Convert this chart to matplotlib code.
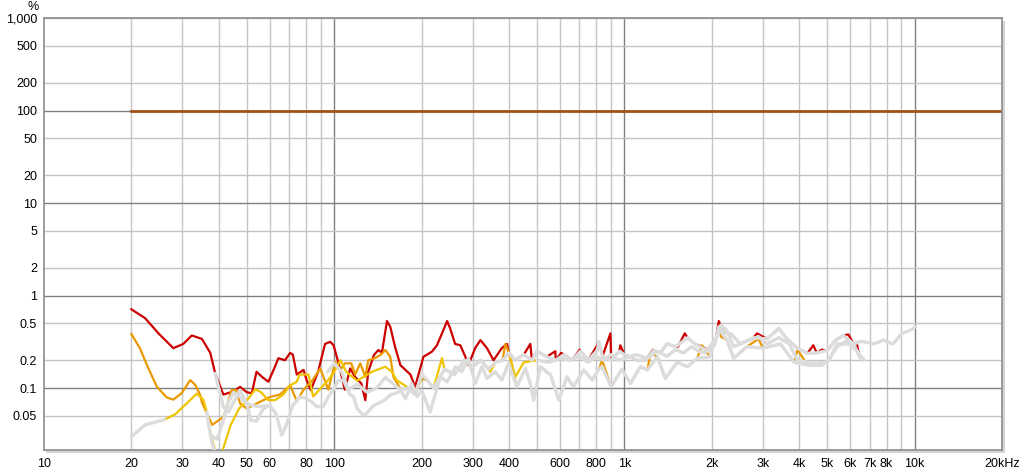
import matplotlib

matplotlib.use("Agg")
import matplotlib.pyplot as plt
from matplotlib.patches import Rectangle
from matplotlib.ticker import FixedLocator, NullLocator

# reference level (fundamental)
fund_f = [20, 20000]
fund_v = [100, 100]

# THD (red)
thd_f = [20, 22.3, 24.8, 27.9, 30.2, 32.3, 35.0, 37.4, 38.9, 41.5, 44, 45.6, 47.4, 50, 52,
         54, 56.4, 59.3, 62.5, 64.2, 67.7, 70.5, 72, 74.3, 78.4, 80.3, 83, 88, 93, 96.9,
         99.5, 103.5, 108.8, 113.5, 118, 124, 128, 131, 137, 142, 146, 152, 156, 162, 169,
         176, 183, 190, 203, 217, 226, 245, 251, 261, 272, 283, 290, 306, 319, 336, 354,
         378, 394, 400, 420, 450, 474, 480, 500, 540, 578, 580, 605, 620, 660, 702, 706,
         750, 806, 817, 840, 895, 900, 960, 968, 1000, 1049, 1100, 1181, 1256, 1262, 1330,
         1400, 1413, 1500, 1530, 1614, 1650, 1750, 1850, 1970, 2050, 2115, 2200, 2321,
         2512, 2780, 2865, 3100, 3404, 3630, 3945, 4270, 4475, 4600, 4780, 5000, 5340,
         5690, 5910, 6160, 6310, 6400]
thd_v = [0.71, 0.57, 0.39, 0.27, 0.30, 0.37, 0.34, 0.24, 0.144, 0.085, 0.09, 0.095, 0.103,
         0.09, 0.088, 0.15, 0.132, 0.117, 0.17, 0.21, 0.20, 0.24, 0.23, 0.14, 0.157, 0.122,
         0.095, 0.15, 0.30, 0.316, 0.29, 0.185, 0.096, 0.163, 0.132, 0.112, 0.074, 0.15,
         0.227, 0.258, 0.24, 0.53, 0.46, 0.28, 0.177, 0.157, 0.14, 0.103, 0.218, 0.247,
         0.29, 0.53, 0.44, 0.30, 0.29, 0.218, 0.177, 0.27, 0.33, 0.27, 0.20, 0.27, 0.30,
         0.24, 0.2, 0.23, 0.30, 0.2, 0.25, 0.218, 0.25, 0.2, 0.24, 0.23, 0.2, 0.26, 0.25,
         0.2, 0.29, 0.316, 0.22, 0.39, 0.2, 0.25, 0.29, 0.23, 0.218, 0.2, 0.2, 0.26, 0.255,
         0.24, 0.3, 0.3, 0.28, 0.28, 0.39, 0.35, 0.3, 0.28, 0.255, 0.3, 0.53, 0.4, 0.39,
         0.30, 0.35, 0.39, 0.34, 0.44, 0.34, 0.27, 0.237, 0.29, 0.24, 0.26, 0.255, 0.33,
         0.37, 0.38, 0.30, 0.31, 0.25]

# H2 (orange)
h2_f = [20, 21.4, 22.9, 24.5, 26.5, 27.9, 29.8, 31.9, 33.2, 34.5, 35, 38, 41.6, 44.3, 46,
        47.4, 50, 55, 60, 65, 70.5, 74.3, 78.4, 84, 89.5, 92, 95.5, 100.7, 105, 108.8,
        114.5, 118, 123, 128, 131, 138, 145, 150, 156, 160, 170, 180, 190, 200, 210, 220,
        240, 260, 272, 280, 300, 320, 340, 360, 380, 389, 400, 426, 456, 474, 487, 513,
        536, 556, 594, 634, 667, 724, 774, 817, 838, 900, 980, 1049, 1135, 1200, 1230,
        1300, 1383, 1520, 1650, 1782, 1850, 1970, 2115, 2150, 2255, 2380, 2640, 2900,
        3000, 3450, 3840, 3950, 4270, 4780, 5060, 5410, 5900, 6000]
h2_v = [0.384, 0.27, 0.163, 0.103, 0.079, 0.075, 0.088, 0.122, 0.108, 0.085, 0.07, 0.04,
        0.049, 0.095, 0.095, 0.068, 0.06, 0.07, 0.08, 0.085, 0.107, 0.072, 0.096, 0.12,
        0.163, 0.13, 0.096, 0.193, 0.157, 0.185, 0.185, 0.14, 0.185, 0.132, 0.2, 0.21,
        0.23, 0.258, 0.218, 0.132, 0.095, 0.1, 0.085, 0.127, 0.12, 0.1, 0.16, 0.14, 0.17,
        0.2, 0.17, 0.2, 0.16, 0.19, 0.2, 0.30, 0.24, 0.103, 0.163, 0.112, 0.074, 0.17,
        0.15, 0.14, 0.074, 0.132, 0.103, 0.157, 0.122, 0.16, 0.2, 0.103, 0.16, 0.112,
        0.17, 0.157, 0.24, 0.218, 0.127, 0.19, 0.17, 0.21, 0.29, 0.218, 0.44, 0.36, 0.33,
        0.21, 0.28, 0.34, 0.27, 0.30, 0.19, 0.26, 0.177, 0.177, 0.2, 0.30, 0.3, 0.29]

# H3 (yellow)
h3_f = [20, 22.3, 26, 28.3, 30.7, 33.6, 35.4, 36.4, 37, 38.9, 41, 44, 47, 50.6, 53.5, 56,
        59.3, 62.5, 66.8, 70.5, 74.3, 76, 81.5, 84.6, 90, 95, 100, 105, 110, 120, 135,
        150, 158, 164, 178, 190, 200, 210, 220, 235, 240, 260, 280, 300, 320, 345, 360,
        380, 400, 421, 450, 500, 550, 600, 650, 700, 750, 800, 850, 900, 950, 1000, 1100,
        1200, 1300, 1400, 1500, 1600, 1700, 1800, 1900, 2000, 2100, 2150, 2250, 2380,
        2500, 2700, 2900, 3100, 3400, 3700, 3945, 4270, 4530, 5000, 5400, 5800, 6000]
h3_v = [0.03, 0.04, 0.0455, 0.052, 0.066, 0.087, 0.075, 0.055, 0.039, 0.021, 0.02, 0.04,
        0.06, 0.077, 0.097, 0.09, 0.074, 0.074, 0.085, 0.107, 0.117, 0.14, 0.14, 0.081,
        0.1, 0.12, 0.15, 0.2, 0.15, 0.12, 0.15, 0.17, 0.15, 0.122, 0.103, 0.085, 0.14,
        0.12, 0.1, 0.21, 0.16, 0.14, 0.2, 0.17, 0.2, 0.15, 0.19, 0.2, 0.24, 0.132, 0.19,
        0.2, 0.19, 0.21, 0.2, 0.22, 0.19, 0.22, 0.2, 0.23, 0.2, 0.21, 0.23, 0.21, 0.25,
        0.22, 0.26, 0.24, 0.28, 0.25, 0.24, 0.3, 0.37, 0.48, 0.42, 0.28, 0.3, 0.33, 0.36,
        0.3, 0.35, 0.3, 0.2, 0.19, 0.185, 0.19, 0.28, 0.32, 0.3]

# grey traces (drawn on top)
gs_f = [20, 22.3, 26]
gs_v = [0.0297, 0.04, 0.0455]

gd_f = [36.4, 37, 38, 38.9]
gd_v = [0.055, 0.039, 0.025, 0.02]

gr_f = [38.9, 40, 41.5, 43.2, 45, 47.4, 50, 52, 55, 60]
gr_v = [0.144, 0.1, 0.063, 0.055, 0.07, 0.095, 0.068, 0.065, 0.063, 0.065]

g1_f = [37.4, 39.5, 41.5, 43.2, 45, 47.4, 50, 51.5, 54, 57, 60, 63, 66, 68.6, 72, 76, 80,
        84, 87, 91.7, 95.5, 100, 103, 107.5, 113.5, 116.5, 120, 126, 129, 137, 144, 150,
        156, 166, 169, 176, 185, 193, 200, 214, 220, 232, 245, 262, 275, 290, 306, 323,
        336, 359, 378, 399, 426, 456, 474, 487, 513, 556, 594, 634, 667, 724, 774, 817,
        838, 900, 980, 1049, 1135, 1200, 1300, 1383, 1520, 1650, 1782, 1970, 2115, 2255,
        2380, 2640, 3000, 3450, 3840, 4270, 4780, 5060, 5410, 5900, 6320, 6700]
g1_v = [0.031, 0.028, 0.045, 0.07, 0.09, 0.08, 0.068, 0.045, 0.044, 0.06, 0.065, 0.053,
        0.031, 0.041, 0.065, 0.08, 0.078, 0.07, 0.063, 0.063, 0.081, 0.1, 0.12, 0.122,
        0.084, 0.081, 0.06, 0.051, 0.053, 0.065, 0.07, 0.075, 0.084, 0.09, 0.095, 0.077,
        0.112, 0.081, 0.095, 0.055, 0.074, 0.132, 0.117, 0.17, 0.15, 0.21, 0.112, 0.17,
        0.127, 0.15, 0.122, 0.185, 0.103, 0.163, 0.112, 0.074, 0.17, 0.14, 0.074, 0.132,
        0.103, 0.157, 0.122, 0.16, 0.17, 0.103, 0.16, 0.112, 0.17, 0.157, 0.218, 0.127,
        0.19, 0.17, 0.21, 0.218, 0.44, 0.33, 0.21, 0.28, 0.27, 0.30, 0.19, 0.177, 0.177,
        0.2, 0.30, 0.3, 0.255, 0.2]

g2_f = [95, 100, 106, 112, 120, 130, 140, 150, 160, 170, 180, 190, 200, 210, 220, 240,
        260, 280, 300, 320, 340, 360, 380, 400, 420, 450, 480, 500, 540, 580, 620, 660,
        706, 750, 806, 817, 840, 900, 960, 1000, 1049, 1100, 1181, 1262, 1330, 1400, 1500,
        1650, 1750, 1850, 1970, 2050, 2115, 2200, 2321, 2512, 2780, 3100, 3404, 3630,
        3945, 4270, 4600, 5000, 5340, 5690, 6160, 6490]
g2_v = [0.15, 0.185, 0.15, 0.096, 0.11, 0.09, 0.1, 0.13, 0.11, 0.095, 0.1, 0.085, 0.14,
        0.12, 0.1, 0.16, 0.14, 0.2, 0.17, 0.2, 0.16, 0.19, 0.2, 0.24, 0.2, 0.23, 0.2, 0.25,
        0.218, 0.2, 0.23, 0.2, 0.25, 0.2, 0.255, 0.316, 0.22, 0.2, 0.25, 0.23, 0.218, 0.2,
        0.2, 0.255, 0.24, 0.3, 0.28, 0.35, 0.3, 0.27, 0.255, 0.3, 0.46, 0.4, 0.39, 0.30,
        0.35, 0.34, 0.44, 0.34, 0.27, 0.237, 0.24, 0.255, 0.33, 0.37, 0.30, 0.21]

g3_f = [500, 550, 600, 650, 700, 750, 800, 850, 900, 950, 1000, 1100, 1200, 1300, 1400,
        1500, 1600, 1700, 1800, 1900, 2000, 2100, 2150, 2250, 2380, 2500, 2700, 2900, 3100,
        3400, 3700, 3945, 4270, 4530, 5000, 5400, 5800, 6200, 6500, 6700, 7244, 7800, 8420,
        9050, 9650, 10070]
g3_v = [0.2, 0.19, 0.21, 0.2, 0.22, 0.19, 0.22, 0.2, 0.23, 0.2, 0.21, 0.23, 0.21, 0.25,
        0.22, 0.26, 0.24, 0.28, 0.25, 0.24, 0.3, 0.37, 0.48, 0.42, 0.28, 0.3, 0.33, 0.36,
        0.3, 0.35, 0.3, 0.2, 0.19, 0.185, 0.19, 0.28, 0.32, 0.3, 0.32, 0.316, 0.30, 0.33,
        0.30, 0.39, 0.42, 0.46]

y_ticks = [0.05, 0.1, 0.2, 0.5, 1, 2, 5, 10, 20, 50, 100, 200, 500, 1000]
y_labels = ["0.05", "0.1", "0.2", "0.5", "1", "2", "5", "10", "20", "50", "100", "200",
            "500", "1,000"]
x_ticks = [10, 20, 30, 40, 50, 60, 80, 100, 200, 300, 400, 600, 800, 1000, 2000, 3000,
           4000, 5000, 6000, 7000, 8000, 10000, 20000]
x_labels = ["10", "20", "30", "40", "50", "60", "80", "100", "200", "300", "400", "600",
            "800", "1k", "2k", "3k", "4k", "5k", "6k", "7k", "8k", "10k", "20kHz"]

plt.rcParams["font.family"] = ["Liberation Sans", "DejaVu Sans"]

fig = plt.figure(figsize=(10.24, 4.74), dpi=100)
ax = fig.add_axes([44 / 1024, 1 - 450 / 474, 958 / 1024, 432 / 474])

# drop shadow of the plot frame
fig.patches.append(Rectangle((46 / 1024, 1 - 453 / 474), 959 / 1024, 432 / 474,
                             transform=fig.transFigure, facecolor="#d4d4d4",
                             edgecolor="none", zorder=-1))
ax.set_facecolor("white")

ax.set_xscale("log")
ax.set_yscale("log")
ax.set_xlim(10, 20000)
ax.set_ylim(0.0214, 1000)

# grid
minor_x = [m * 10 ** e for e in range(1, 5) for m in range(2, 10) if m * 10 ** e < 20000]
for f in minor_x:
    ax.axvline(f, color="#c4c4c4", lw=1.0, zorder=0)
for f in [100, 1000, 10000]:
    ax.axvline(f, color="#808080", lw=1.0, zorder=0)
for v in y_ticks:
    major = v in (0.1, 1, 10, 100)
    ax.axhline(v, color="#808080" if major else "#c4c4c4", lw=1.0, zorder=0)

ax.plot(fund_f, fund_v, color="#a3521c", lw=2.0, zorder=2)
ax.plot(thd_f, thd_v, color="#cc0000", lw=1.6, zorder=3)
ax.plot(h2_f, h2_v, color="#e89a00", lw=1.6, zorder=4)
ax.plot(h3_f, h3_v, color="#f0c400", lw=1.6, zorder=5)
for gf, gv in [(gs_f, gs_v), (gd_f, gd_v), (gr_f, gr_v), (g1_f, g1_v), (g2_f, g2_v),
               (g3_f, g3_v)]:
    ax.plot(gf, gv, color="#dcdcdc", lw=2.4, zorder=6, solid_capstyle="round")

ax.xaxis.set_major_locator(FixedLocator(x_ticks))
ax.xaxis.set_minor_locator(NullLocator())
ax.set_xticklabels(x_labels)
ax.yaxis.set_major_locator(FixedLocator(y_ticks))
ax.yaxis.set_minor_locator(NullLocator())
ax.set_yticklabels(y_labels)
ax.tick_params(axis="both", length=0, labelsize=9, colors="#000000")
ax.tick_params(axis="x", pad=6)
ax.tick_params(axis="y", pad=5)

for s in ax.spines.values():
    s.set_color("#8c8c8c")
    s.set_linewidth(1.2)

fig.text(33 / 1024, 1 - 7 / 474, "%", ha="center", va="center", fontsize=9)

fig.savefig("out.png", dpi=100)
plt.close(fig)
